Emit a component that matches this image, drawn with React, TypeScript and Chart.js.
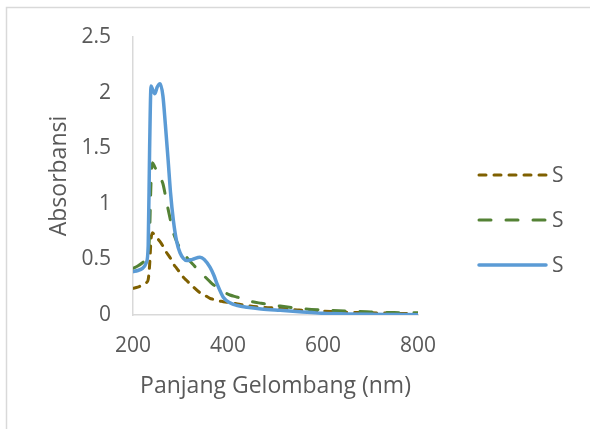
import React, { useEffect, useRef } from "react";
import { Chart, registerables } from "chart.js";

Chart.register(...registerables);

const wavelengths = [200, 210, 220, 228, 232, 235, 238, 241, 246, 251, 257, 263, 268, 274, 279, 285, 292, 299, 306, 313, 325, 341, 350, 362, 370, 377, 390, 404, 420, 440, 470, 510, 550, 600, 650, 700, 750, 800];

const seriesBrown = [0.24, 0.25, 0.27, 0.29, 0.32, 0.45, 0.68, 0.74, 0.71, 0.69, 0.66, 0.62, 0.58, 0.54, 0.51, 0.46, 0.42, 0.38, 0.34, 0.31, 0.26, 0.2, 0.18, 0.15, 0.14, 0.13, 0.12, 0.11, 0.1, 0.085, 0.07, 0.06, 0.045, 0.035, 0.025, 0.02, 0.015, 0.01];
const seriesGreen = [0.42, 0.44, 0.47, 0.5, 0.53, 0.75, 1.2, 1.37, 1.33, 1.29, 1.24, 1.18, 1.08, 0.95, 0.85, 0.74, 0.66, 0.6, 0.56, 0.52, 0.46, 0.39, 0.35, 0.3, 0.27, 0.25, 0.21, 0.18, 0.16, 0.13, 0.105, 0.08, 0.06, 0.045, 0.035, 0.028, 0.022, 0.02];
const seriesBlue = [0.39, 0.4, 0.42, 0.47, 0.62, 1.5, 2.06, 2.03, 1.99, 2.05, 2.08, 1.97, 1.72, 1.39, 1.1, 0.85, 0.66, 0.56, 0.51, 0.49, 0.5, 0.52, 0.5, 0.43, 0.36, 0.28, 0.16, 0.11, 0.085, 0.07, 0.055, 0.042, 0.03, 0.015, 0.01, 0.007, 0.005, 0.003];

const seriesLabels = ["S", "S", "S"];
const xTicks = [200, 400, 600, 800];
const yTicks = [0, 0.5, 1, 1.5, 2, 2.5];
const xTitle = "Panjang Gelombang (nm)";
const yTitle = "Absorbansi";

const FONT = "'Open Sans', sans-serif";
const TEXT = "#595959";
const AXIS = "#d9d9d9";

export default function App() {
  const ref = useRef<HTMLCanvasElement>(null);
  useEffect(() => {
    const canvas = ref.current!;
    const mk = (vals: number[]) => wavelengths.map((x, i) => ({ x, y: vals[i] }));
    const styles = [
      { color: "#7f6000", width: 3, dash: [7, 8] },
      { color: "#548235", width: 3, dash: [12, 15] },
      { color: "#5b9bd5", width: 3.5, dash: [] as number[] },
    ];
    const values = [seriesBrown, seriesGreen, seriesBlue];
    const legendYs = [175, 220, 265];

    const framePlugin = {
      id: "frame",
      beforeDraw(chart: any) {
        const ctx = chart.ctx;
        ctx.save();
        ctx.strokeStyle = AXIS;
        ctx.lineWidth = 1.5;
        ctx.beginPath();
        ctx.moveTo(6.5, 429);
        ctx.lineTo(6.5, 7.5);
        ctx.lineTo(590, 7.5);
        ctx.stroke();
        ctx.restore();
      },
      afterDraw(chart: any) {
        const ctx = chart.ctx;
        ctx.save();
        chart.data.datasets.forEach((ds: any, i: number) => {
          const y = legendYs[i];
          ctx.strokeStyle = ds.borderColor;
          ctx.lineWidth = ds.borderWidth;
          ctx.lineCap = "round";
          ctx.setLineDash(ds.borderDash || []);
          ctx.beginPath();
          ctx.moveTo(479, y);
          ctx.lineTo(546, y);
          ctx.stroke();
          ctx.setLineDash([]);
          ctx.fillStyle = TEXT;
          ctx.font = `21px ${FONT}`;
          ctx.textBaseline = "middle";
          ctx.textAlign = "left";
          ctx.fillText(ds.label, 552, y + 1);
        });
        ctx.restore();
      },
    };

    const chart = new Chart(canvas, {
      type: "line",
      data: {
        datasets: values.map((v, i) => ({
          label: seriesLabels[i],
          data: mk(v),
          borderColor: styles[i].color,
          borderWidth: styles[i].width,
          borderDash: styles[i].dash,
          borderCapStyle: "round",
          pointRadius: 0,
          fill: false,
          cubicInterpolationMode: "monotone",
          order: 2 - i,
        })),
      },
      options: {
        responsive: false,
        animation: false,
        devicePixelRatio: 1,
        layout: { padding: { left: 0, top: 37, right: 172, bottom: 0 } },
        plugins: { legend: { display: false }, tooltip: { enabled: false } },
        scales: {
          x: {
            type: "linear",
            min: 200,
            max: 800,
            afterFit: (s: any) => { s.height = 114; },
            afterBuildTicks: (s: any) => { s.ticks = xTicks.map((v) => ({ value: v })); },
            grid: { display: false, drawTicks: false },
            border: { display: true, color: AXIS, width: 1.5 },
            ticks: { color: TEXT, font: { family: FONT, size: 21 }, padding: 18, maxRotation: 0, callback: (v: any) => String(v) },
            title: { display: true, text: xTitle, color: TEXT, font: { family: FONT, size: 23 }, padding: { top: 0, bottom: 29 } },
          },
          y: {
            type: "linear",
            min: 0,
            max: 2.5,
            afterFit: (s: any) => { s.width = 133; },
            afterBuildTicks: (s: any) => { s.ticks = yTicks.map((v) => ({ value: v })); },
            grid: { display: false, drawTicks: false },
            border: { display: true, color: AXIS, width: 1.5 },
            ticks: { color: TEXT, font: { family: FONT, size: 21 }, padding: 22, callback: (v: any) => String(v) },
            title: { display: true, text: yTitle, color: TEXT, font: { family: FONT, size: 23 }, padding: { top: 46, bottom: 0 } },
          },
        },
      },
      plugins: [framePlugin],
    } as any);
    return () => chart.destroy();
  }, []);
  return (
    <canvas
      ref={ref}
      width={590}
      height={429}
      style={{ position: "absolute", left: 0, top: 0, width: 590, height: 429 }}
    />
  );
}
